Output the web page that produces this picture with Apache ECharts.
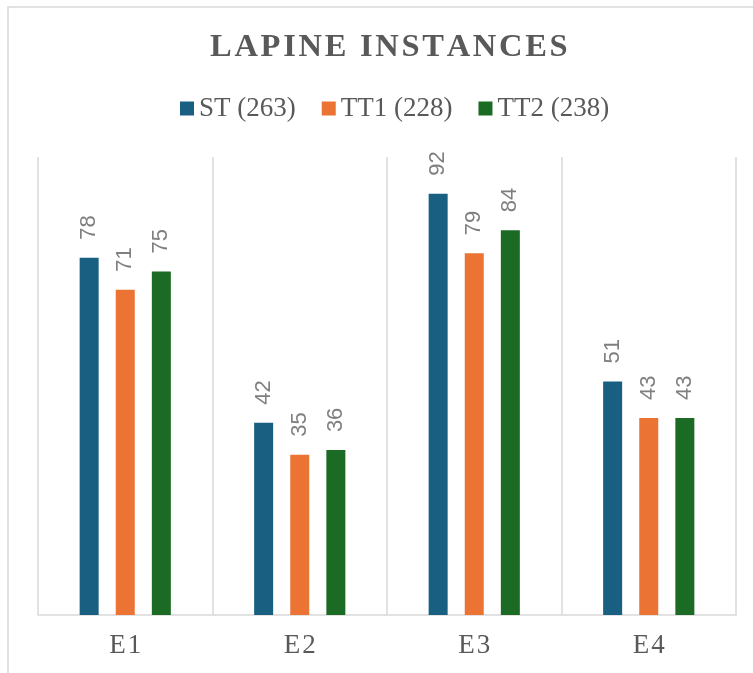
<!DOCTYPE html>
<html>
<head>
<meta charset="utf-8">
<script src="https://cdn.jsdelivr.net/npm/echarts@6/dist/echarts.min.js"></script>
<style>
  html, body { margin: 0; padding: 0; background: #fff; }
  #chart { width: 753px; height: 673px; }
</style>
</head>
<body>
<div id="chart"></div>
<script>
// Lapine instances per exercise, split by group
const categories = ['E1', 'E2', 'E3', 'E4'];
const seriesNames = ['ST (263)', 'TT1 (228)', 'TT2 (238)'];
const stValues  = [78, 42, 92, 51];
const tt1Values = [71, 35, 79, 43];
const tt2Values = [75, 36, 84, 43];
const seriesColors = ['#185F82', '#EB7333', '#1B6B25'];

// spaced-out heading letters
const spaced = s => s.split('').join('\u200A');
const titleText = spaced('LAPINE INSTANCES');

const chart = echarts.init(document.getElementById('chart'), null, { renderer: 'canvas' });

const label = {
  show: true,
  position: 'top',
  rotate: 90,
  align: 'left',
  verticalAlign: 'middle',
  distance: 18,
  color: '#7F7F7F',
  fontFamily: 'Liberation Sans, Arial, sans-serif',
  fontSize: 22
};

function bar(name, data, color) {
  return {
    name: name,
    type: 'bar',
    data: data,
    barWidth: 19,
    barGap: '90%',
    itemStyle: { color: color },
    label: label,
    emphasis: { disabled: true }
  };
}

chart.setOption({
  animation: false,
  backgroundColor: '#fff',
  graphic: [{
    type: 'rect',
    shape: { x: 8, y: 7, width: 900, height: 900 },
    style: { fill: 'none', stroke: '#D9D9D9', lineWidth: 1.5 },
    silent: true,
    z: -1
  }],
  title: {
    text: titleText,
    left: 205,
    top: 26,
    textStyle: {
      fontFamily: 'Liberation Serif, Times New Roman, serif',
      fontWeight: 'bold',
      fontSize: 32.5,
      color: '#595959'
    }
  },
  legend: {
    data: seriesNames,
    top: 90,
    left: 175,
    itemWidth: 14,
    itemHeight: 14,
    itemGap: 26,
    icon: 'rect',
    textStyle: {
      fontFamily: 'Liberation Serif, Times New Roman, serif',
      fontSize: 27,
      color: '#595959'
    }
  },
  grid: { left: 38, right: 17, top: 157, bottom: 58 },
  xAxis: {
    type: 'category',
    data: categories,
    axisLine: { lineStyle: { color: '#D9D9D9', width: 1.5 } },
    axisTick: { show: false },
    splitLine: { show: true, lineStyle: { color: '#D9D9D9', width: 1.5 } },
    axisLabel: {
      margin: 17,
      formatter: v => spaced(v),
      fontFamily: 'Liberation Serif, Times New Roman, serif',
      fontSize: 27,
      color: '#595959'
    }
  },
  yAxis: {
    type: 'value',
    min: 0,
    max: 100,
    show: false,
    splitLine: { show: false }
  },
  series: [
    bar(seriesNames[0], stValues, seriesColors[0]),
    bar(seriesNames[1], tt1Values, seriesColors[1]),
    bar(seriesNames[2], tt2Values, seriesColors[2])
  ]
});
</script>
</body>
</html>
